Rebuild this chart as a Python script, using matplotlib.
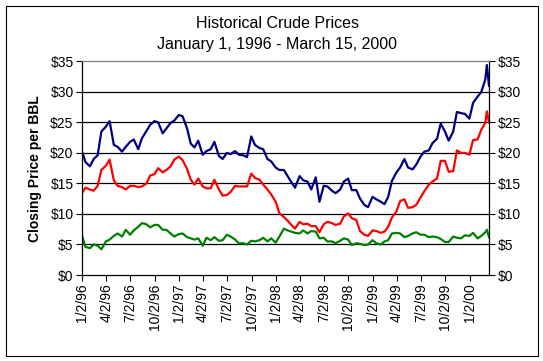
import numpy as np
import pandas as pd
import matplotlib
matplotlib.use("Agg")
import matplotlib.pyplot as plt
from matplotlib.patches import Rectangle

plt.rcParams['font.family'] = ['Liberation Sans', 'DejaVu Sans']

# semi-monthly samples, plus the early-March 2000 spike
dates = list(pd.date_range('1996-01-02', '2000-03-15', freq='SMS').insert(0, pd.Timestamp('1996-01-02')))
dates = dates[:-1] + [pd.Timestamp('2000-03-07'), pd.Timestamp('2000-03-15')]

navy = [20.2, 18.5, 17.8, 19.0, 19.6, 23.5, 24.3, 25.2, 21.3, 21.0, 20.2, 21.0, 21.8, 22.2, 20.6, 22.4, 23.6, 24.6, 25.2,
        25.0, 23.2, 24.0, 24.9, 25.3, 26.2, 26.0, 24.0, 21.5, 20.9, 22.0, 19.7, 20.3, 20.6, 21.8, 19.5, 19.0, 20.0, 19.8, 20.3,
        19.7, 19.6, 19.3, 22.7, 21.3, 20.8, 20.6, 19.0, 18.6, 17.6, 17.2, 17.2, 16.2, 15.2, 14.3, 16.2, 15.5, 15.3, 14.0, 16.0,
        12.0, 14.6, 14.5, 13.8, 13.4, 14.0, 15.3, 15.8, 13.9, 13.9, 12.5, 11.5, 11.1, 12.8, 12.4, 12.0, 11.6, 12.8, 15.4, 16.8,
        17.6, 19.0, 17.6, 17.3, 18.1, 19.4, 20.2, 20.4, 21.6, 22.3, 24.8, 23.5, 22.0, 23.5, 26.7, 26.5, 26.4, 25.6,
        28.2, 29.2, 30.0, 32.0, 34.4, 31.0]
red = [13.4, 14.3, 14.0, 13.8, 14.6, 17.2, 17.9, 18.9, 15.5, 14.6, 14.4, 14.0, 14.6, 14.6, 14.4, 14.5, 15.0, 16.3, 16.5,
       17.5, 16.8, 17.2, 17.8, 18.9, 19.4, 18.8, 17.4, 15.6, 14.8, 15.8, 14.5, 14.2, 14.2, 15.6, 14.0, 13.0, 13.1, 13.6, 14.6,
       14.5, 14.5, 14.5, 16.6, 15.9, 15.6, 14.8, 14.0, 13.2, 12.0, 10.1, 9.5, 8.9, 8.2, 7.6, 8.7, 8.3, 8.4, 8.0, 8.0,
       7.0, 8.3, 8.7, 8.5, 8.2, 8.4, 9.6, 10.1, 9.3, 9.0, 7.2, 6.6, 6.4, 7.3, 7.2, 6.9, 7.1, 7.9, 9.4, 10.4,
       12.1, 12.4, 11.0, 11.1, 11.5, 12.7, 13.7, 14.8, 15.3, 15.8, 18.7, 18.7, 16.9, 17.0, 20.4, 20.0, 20.0, 19.7,
       22.1, 22.2, 23.8, 24.9, 26.8, 25.0]
green = [6.4, 4.6, 4.4, 5.0, 4.8, 4.2, 5.5, 5.8, 6.4, 6.8, 6.3, 7.4, 6.6, 7.3, 7.9, 8.5, 8.3, 7.8, 8.2,
         8.2, 7.4, 7.4, 6.8, 6.3, 6.7, 6.8, 6.2, 6.0, 5.8, 6.0, 4.8, 6.1, 5.7, 6.2, 5.6, 5.7, 6.6, 6.3, 5.8,
         5.2, 5.2, 5.0, 5.6, 5.5, 5.7, 6.1, 5.5, 6.0, 5.3, 6.3, 7.6, 7.3, 7.1, 6.9, 6.8, 7.3, 6.8, 7.2, 7.1,
         6.0, 6.1, 5.5, 5.5, 5.2, 5.6, 6.0, 5.8, 4.9, 5.2, 5.1, 4.9, 5.0, 5.7, 5.2, 5.0, 5.5, 5.7, 6.8, 6.9,
         6.8, 6.2, 6.4, 6.8, 7.0, 6.6, 6.6, 6.2, 6.3, 6.2, 5.9, 5.4, 5.4, 6.3, 6.1, 6.0, 6.5, 6.4,
         6.9, 6.0, 6.4, 7.0, 7.4, 6.2]

tick_dates = pd.date_range('1996-01-01', '2000-01-01', freq='QS') + pd.Timedelta(days=1)
tick_labels = [f"{d.month}/{d.day}/{d:%y}" for d in tick_dates]
y_ticks = np.arange(0, 36, 5)

fig = plt.figure(figsize=(5.43, 3.61), dpi=100)
ax = fig.add_axes([82 / 543, 1 - 275 / 361, 407 / 543, 213.7 / 361])

ax.plot(dates, navy, color='#000080', lw=1.6)
ax.plot(dates, red, color='#ff0000', lw=1.6)
ax.plot(dates, green, color='#008000', lw=1.6)

ax.set_xlim(dates[0], dates[-1])
ax.set_ylim(0, 35)
ax.set_yticks(y_ticks)
ax.set_yticklabels([f"${v}" for v in y_ticks])
ax.set_xticks(tick_dates)
ax.set_xticklabels(tick_labels, rotation=90)
for v in y_ticks[1:-1]:
    ax.axhline(v, color='black', lw=0.9, zorder=0)

ax.tick_params(axis='both', direction='out', length=4, width=0.8, labelsize=10, colors='black')
ax.tick_params(axis='y', pad=2, right=True, labelright=True)
ax.tick_params(axis='x', pad=2)
for s in ['left', 'right', 'bottom']:
    ax.spines[s].set_color('black')
    ax.spines[s].set_linewidth(0.9)
ax.spines['top'].set_color('#808080')
ax.spines['top'].set_linewidth(0.9)

ax.set_ylabel('Closing Price per BBL', fontsize=10, fontweight='bold', labelpad=6)

fig.text(277 / 543, 1 - 24 / 361, 'Historical Crude Prices', ha='center', va='center', fontsize=11.5)
fig.text(277 / 543, 1 - 44 / 361, 'January 1, 1996 - March 15, 2000', ha='center', va='center', fontsize=11.5)

fig.patches.append(Rectangle((5.5 / 543, 1 - 355.5 / 361), 532 / 543, 350 / 361,
                             transform=fig.transFigure, fill=False, edgecolor='black', lw=0.8))

fig.savefig('out.png', dpi=100)
